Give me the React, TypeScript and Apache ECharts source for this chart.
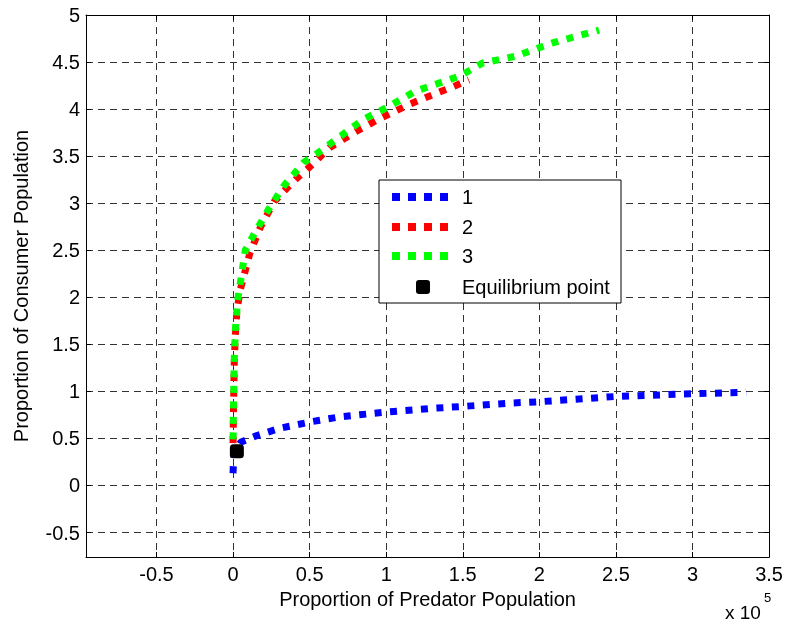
import React, { useEffect, useRef } from "react";
import * as echarts from "echarts";

// x values in units of 10^5
const blueX = [0, 0.005, 0.05, 0.156, 0.31, 0.52, 0.7, 1.0, 1.3, 1.5, 1.8, 2.0, 2.49, 3.0, 3.35];
const blueY = [0.13, 0.33, 0.46, 0.53, 0.61, 0.68, 0.73, 0.78, 0.82, 0.84, 0.875, 0.89, 0.945, 0.975, 0.99];

const redX = [0, 0.004, 0.008, 0.015, 0.025, 0.047, 0.11, 0.18, 0.27, 0.34, 0.42, 0.49, 0.63, 0.8, 0.96, 1.15, 1.36, 1.44, 1.54];
const redY = [0.45, 0.9, 1.3, 1.6, 1.85, 2.08, 2.47, 2.75, 3.02, 3.14, 3.27, 3.37, 3.59, 3.76, 3.9, 4.05, 4.19, 4.24, 4.31];

const greenX = [0, 0.004, 0.008, 0.015, 0.03, 0.08, 0.13, 0.23, 0.33, 0.46, 0.55, 0.7, 0.85, 1.02, 1.19, 1.48, 1.63, 1.84, 2.08, 2.39];
const greenY = [0.49, 0.95, 1.35, 1.65, 1.97, 2.5, 2.65, 2.93, 3.18, 3.43, 3.53, 3.71, 3.89, 4.03, 4.19, 4.35, 4.49, 4.56, 4.7, 4.84];

const equilibrium = [0.025, 0.365];

const seriesNames = ["1", "2", "3", "Equilibrium point"];
const seriesColors = ["#0000ff", "#ff0000", "#00ff00", "#000000"];

const xLimits = [-0.96, 3.5];
const yLimits = [-0.76, 5];

const FONT = "'Liberation Sans', Arial, Helvetica, sans-serif";

function zip(xs: number[], ys: number[]) {
  return xs.map((x, i) => [x, ys[i]]);
}

export default function App() {
  const ref = useRef<HTMLDivElement>(null);
  useEffect(() => {
    if (!ref.current) return;
    const chart = echarts.init(ref.current, null, { renderer: "svg" });
    const gridLine = { show: true, lineStyle: { color: "#333", width: 1, type: [7, 5] as any } };
    const axisBase = {
      type: "value" as const,
      minInterval: 0.5,
      maxInterval: 0.5,
      axisLine: { show: true, onZero: false, lineStyle: { color: "#000", width: 1 } },
      axisTick: { show: true, inside: true, length: 5, lineStyle: { color: "#000" } },
    };
    const lineSeries = (i: number, xs: number[], ys: number[]) => ({
      type: "line",
      name: seriesNames[i],
      data: zip(xs, ys),
      showSymbol: false,
      xAxisIndex: 0,
      yAxisIndex: 0,
      lineStyle: { color: seriesColors[i], width: 7, type: [7, 8.5], cap: "butt" },
      z: 3 + i,
    });
    const legendLeft = 379;
    const legendTop = 180;
    const rowYs = [197, 227, 256, 287];
    const legendGraphics: any[] = [
      {
        type: "rect",
        shape: { x: legendLeft, y: legendTop, width: 242, height: 123 },
        style: { fill: "#fff", stroke: "#000", lineWidth: 1 },
        z: 100,
      },
    ];
    for (let i = 0; i < 3; i++) {
      legendGraphics.push({
        type: "line",
        shape: { x1: 392, y1: rowYs[i], x2: 448, y2: rowYs[i] },
        style: { stroke: seriesColors[i], lineWidth: 8, lineDash: [8, 8] },
        z: 101,
      });
    }
    legendGraphics.push({
      type: "rect",
      shape: { x: 416, y: rowYs[3] - 7, width: 14, height: 14, r: 3 },
      style: { fill: "#000" },
      z: 101,
    });
    for (let i = 0; i < 4; i++) {
      legendGraphics.push({
        type: "text",
        x: 462,
        y: rowYs[i],
        style: { text: seriesNames[i], font: `20px ${FONT}`, fill: "#000", verticalAlign: "middle" },
        z: 101,
      });
    }
    legendGraphics.push({
      type: "text",
      x: 725,
      y: 612,
      style: { text: "x 10", font: `19px ${FONT}`, fill: "#000", verticalAlign: "middle" },
    });
    legendGraphics.push({
      type: "text",
      x: 764,
      y: 597,
      style: { text: "5", font: `13px ${FONT}`, fill: "#000", verticalAlign: "middle" },
    });

    chart.setOption({
      animation: false,
      grid: { left: 86, top: 15, right: 14, bottom: 66, show: false },
      xAxis: [
        {
          ...axisBase,
          position: "bottom",
          min: xLimits[0],
          max: xLimits[1],
          splitLine: gridLine,
          axisLabel: { show: true, showMinLabel: false, color: "#000", fontSize: 20, fontFamily: FONT, margin: 7 },
          name: "Proportion of Predator Population",
          nameLocation: "middle",
          nameGap: 32,
          nameTextStyle: { color: "#000", fontSize: 20, fontFamily: FONT },
        },
        {
          ...axisBase,
          position: "top",
          min: xLimits[0],
          max: xLimits[1],
          splitLine: { show: false },
          axisLabel: { show: false },
        },
      ],
      yAxis: [
        {
          ...axisBase,
          position: "left",
          min: yLimits[0],
          max: yLimits[1],
          splitLine: gridLine,
          axisLabel: { show: true, showMinLabel: false, color: "#000", fontSize: 20, fontFamily: FONT, margin: 6 },
          name: "Proportion of Consumer Population",
          nameLocation: "middle",
          nameGap: 55,
          nameTextStyle: { color: "#000", fontSize: 20, fontFamily: FONT },
        },
        {
          ...axisBase,
          position: "right",
          min: yLimits[0],
          max: yLimits[1],
          splitLine: { show: false },
          axisLabel: { show: false },
        },
      ],
      series: [
        lineSeries(0, blueX, blueY),
        lineSeries(1, redX, redY),
        lineSeries(2, greenX, greenY),
        {
          type: "scatter",
          name: seriesNames[3],
          data: [equilibrium],
          symbol: "roundRect",
          symbolSize: 14,
          itemStyle: { color: "#000", opacity: 1 },
          z: 10,
        },
      ],
      graphic: legendGraphics,
    });
    return () => chart.dispose();
  }, []);
  return (
    <div
      ref={ref}
      style={{ position: "fixed", left: 0, top: 0, width: 786, height: 623 }}
    />
  );
}
